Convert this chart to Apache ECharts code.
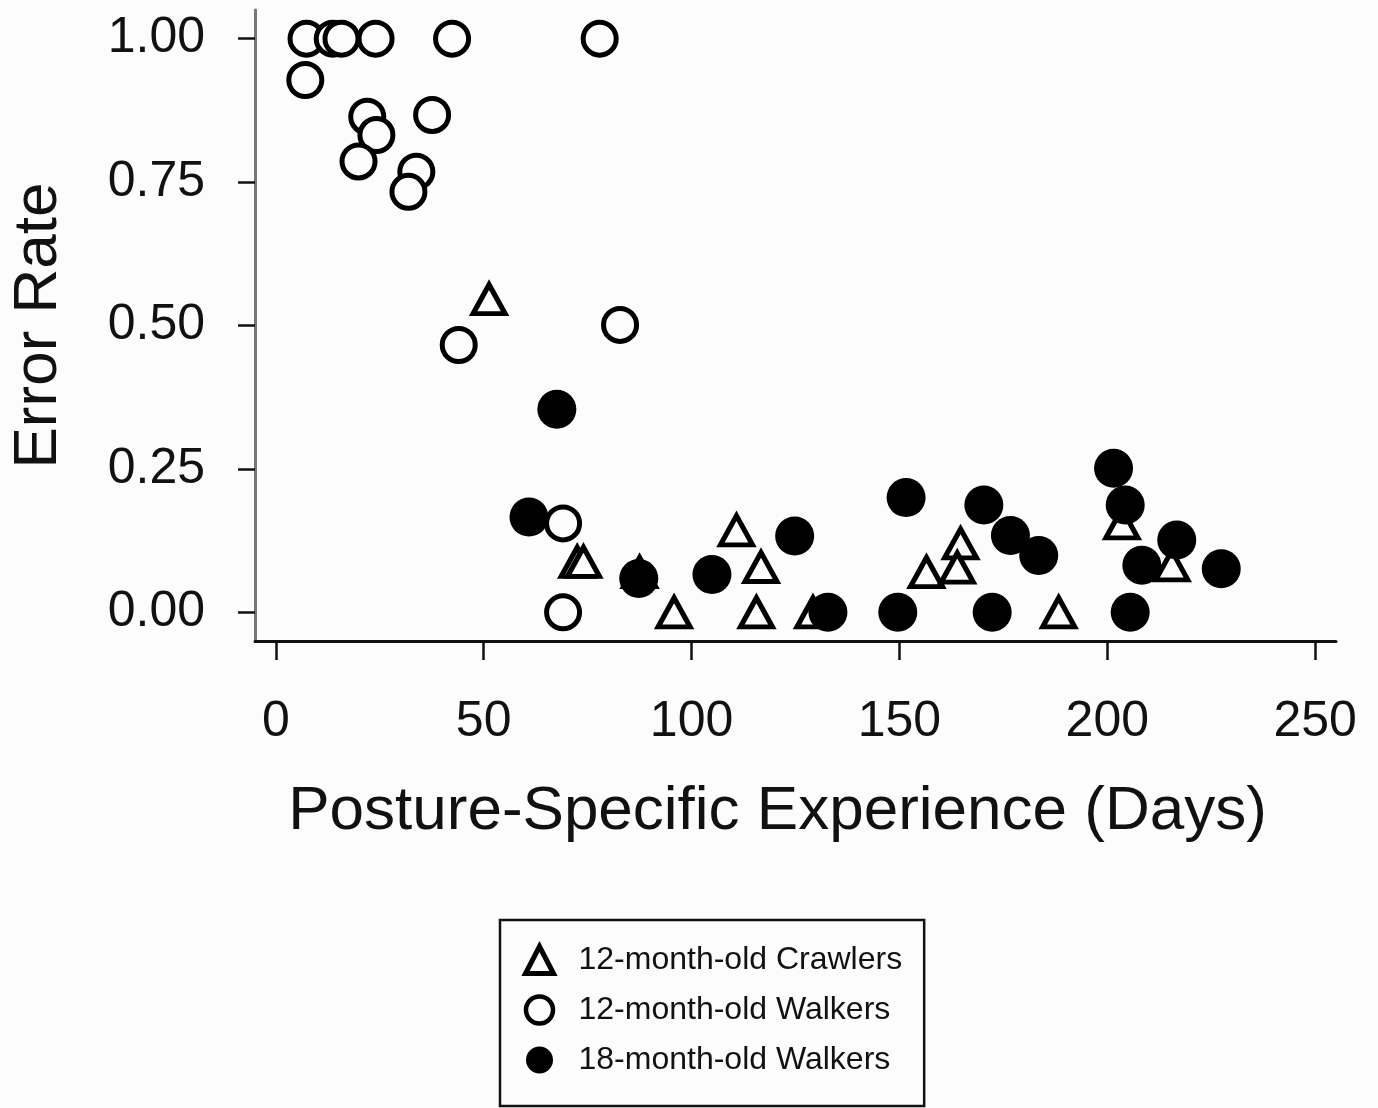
<!DOCTYPE html>
<html>
<head>
<meta charset="utf-8">
<script src="https://cdn.jsdelivr.net/npm/echarts@6/dist/echarts.min.js"></script>
<style>
html,body{margin:0;padding:0;background:#fcfcfc;}
#chart{width:1378px;height:1108px;}
</style>
</head>
<body>
<div id="chart"></div>
<script>
// ---- data (x = days of posture-specific experience, y = error rate) ----
var crawlers12 = [
  [51.3, 0.546], [72.5, 0.088], [74.0, 0.088], [87.5, 0.070], [95.8, 0.0],
  [110.8, 0.143], [116.7, 0.079], [115.6, 0.0], [129.2, 0.0], [156.5, 0.070],
  [164.7, 0.120], [163.9, 0.078], [188.3, 0.0], [203.5, 0.155], [215.5, 0.082]
];
var walkers12 = [
  [7.4, 1.0], [13.7, 1.0], [15.8, 1.0], [24.0, 1.0], [42.4, 1.0], [77.9, 1.0],
  [7.1, 0.928], [22.0, 0.864], [24.2, 0.832], [19.9, 0.786], [37.6, 0.867],
  [33.8, 0.768], [31.9, 0.733], [44.0, 0.466], [82.8, 0.501], [69.1, 0.155], [69.1, 0.0]
];
var walkers18 = [
  [67.6, 0.354], [60.9, 0.166], [87.3, 0.059], [104.9, 0.066], [124.8, 0.133],
  [132.8, 0.0], [151.6, 0.200], [149.6, 0.0], [170.3, 0.187], [176.7, 0.134],
  [183.5, 0.099], [172.3, 0.0], [201.5, 0.251], [204.3, 0.187], [205.5, 0.0],
  [208.3, 0.082], [216.7, 0.126], [227.4, 0.076]
];
var xTicks = [0, 50, 100, 150, 200, 250];
var yTicks = [0, 0.25, 0.5, 0.75, 1.0];
var seriesNames = ['12-month-old Crawlers', '12-month-old Walkers', '18-month-old Walkers'];
var xTitle = 'Posture-Specific Experience (Days)';
var yTitle = 'Error Rate';

var FONT = '"Liberation Sans", Arial, Helvetica, sans-serif';
var chart = echarts.init(document.getElementById('chart'), null, {renderer: 'canvas'});
chart.setOption({
  backgroundColor: '#fcfcfc',
  animation: false,
  textStyle: {fontFamily: FONT, color: '#111'},
  grid: {left: 254, right: 42, top: 10, bottom: 467, containLabel: false},
  xAxis: {
    type: 'value', min: -5, max: 255,
    name: xTitle, nameLocation: 'middle', nameGap: 140,
    nameTextStyle: {fontFamily: FONT, fontSize: 62, color: '#111', padding: [0, 36, 0, 0]},
    axisLine: {onZero: false, lineStyle: {color: '#111', width: 3}},
    axisTick: {show: true, length: 19, lineStyle: {color: '#111', width: 2.5}, customValues: xTicks},
    axisLabel: {fontFamily: FONT, fontSize: 50, color: '#111', margin: 56, customValues: xTicks,
      formatter: function (v) { return String(Math.round(v)); }},
    splitLine: {show: false}
  },
  yAxis: {
    type: 'value', min: -0.05, max: 1.05,
    name: yTitle, nameLocation: 'middle', nameGap: 185,
    nameTextStyle: {fontFamily: FONT, fontSize: 62, color: '#111'},
    axisLine: {onZero: false, lineStyle: {color: '#777', width: 3}},
    axisTick: {show: true, length: 17, lineStyle: {color: '#111', width: 2.5}, customValues: yTicks},
    axisLabel: {fontFamily: FONT, fontSize: 50, color: '#111', margin: 50, customValues: yTicks,
      formatter: function (v) { return v.toFixed(2); }},
    splitLine: {show: false}
  },
  legend: {
    orient: 'vertical', left: 500, top: 920,
    padding: [22, 22, 28, 23],
    itemGap: 14, itemWidth: 28, itemHeight: 27,
    borderColor: '#111', borderWidth: 2.5, backgroundColor: '#fcfcfc',
    data: [
      {name: seriesNames[0], icon: 'triangle', itemStyle: {color: '#fcfcfc', borderColor: '#000', borderWidth: 5}},
      {name: seriesNames[1], icon: 'circle', itemStyle: {color: '#fcfcfc', borderColor: '#000', borderWidth: 4.5}},
      {name: seriesNames[2], icon: 'circle', itemStyle: {color: '#000', borderColor: '#000', borderWidth: 0}}
    ],
    textStyle: {fontFamily: FONT, fontSize: 32, color: '#111', lineHeight: 36, padding: [0, 0, 0, 20]}
  },
  series: [
    {
      name: seriesNames[0], type: 'scatter', z: 2, data: crawlers12,
      symbol: 'triangle', symbolSize: [32, 29],
      itemStyle: {color: '#fcfcfc', borderColor: '#000', borderWidth: 5, opacity: 1}
    },
    {
      name: seriesNames[2], type: 'scatter', z: 3, data: walkers18,
      symbol: 'circle', symbolSize: 39,
      itemStyle: {color: '#000', borderColor: '#000', borderWidth: 0, opacity: 1}
    },
    {
      name: seriesNames[1], type: 'scatter', z: 4, data: walkers12,
      symbol: 'circle', symbolSize: 33,
      itemStyle: {color: '#fcfcfc', borderColor: '#000', borderWidth: 5, opacity: 1}
    }
  ]
});
</script>
</body>
</html>
